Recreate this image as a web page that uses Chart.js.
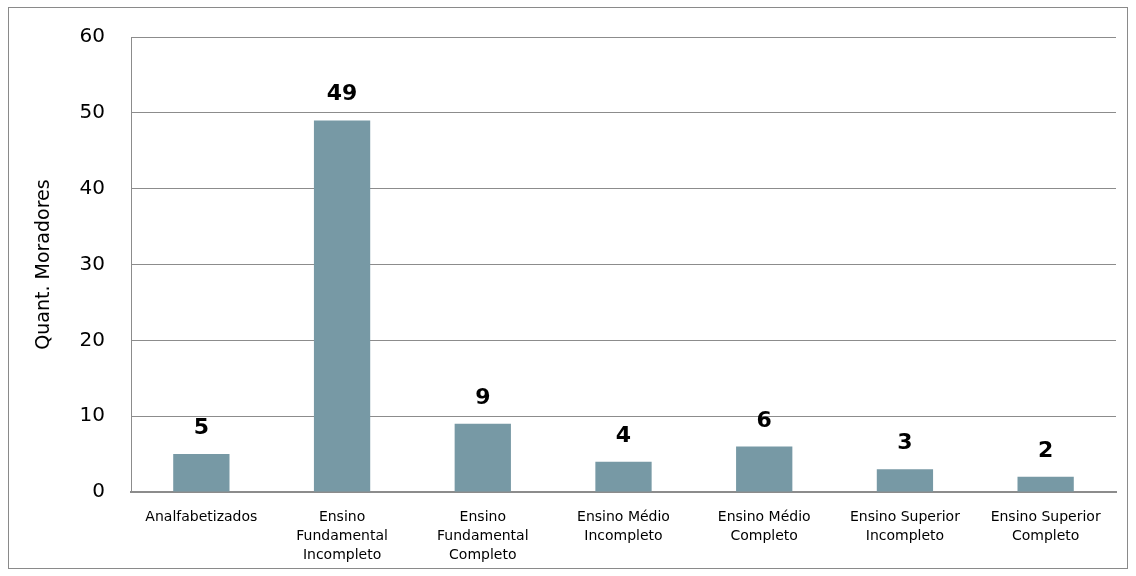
<!DOCTYPE html>
<html>
<head>
<meta charset="utf-8">
<script src="https://cdn.jsdelivr.net/npm/chart.js@4/dist/chart.umd.min.js"></script>
<style>
  html, body { margin: 0; padding: 0; background: #fff; }
  #caixa { position: absolute; left: 8px; top: 7px; width: 1120px; height: 562px;
           box-sizing: border-box; border: 1px solid #8a8a8a; }
</style>
</head>
<body>
<div id="caixa"><canvas id="grafico"></canvas></div>
<script>
var categorias = [
  "Analfabetizados",
  ["Ensino", "Fundamental", "Incompleto"],
  ["Ensino", "Fundamental", "Completo"],
  ["Ensino Médio", "Incompleto"],
  ["Ensino Médio", "Completo"],
  ["Ensino Superior", "Incompleto"],
  ["Ensino Superior", "Completo"]
];
var moradores = [5, 49, 9, 4, 6, 3, 2];
var ticksY = [0, 10, 20, 30, 40, 50, 60];

var fonte = "'DejaVu Sans', sans-serif";
var corBarra = "#7799a5";
var corGrade = "#8c8c8c";

// escreve o valor em cima de cada barra
var rotulosBarras = {
  id: "rotulosBarras",
  afterDatasetsDraw: function(chart) {
    var ctx = chart.ctx;
    var meta = chart.getDatasetMeta(0);
    ctx.save();
    ctx.font = "bold 22px " + fonte;
    ctx.fillStyle = "#000";
    ctx.textAlign = "center";
    ctx.textBaseline = "alphabetic";
    meta.data.forEach(function(bar, i) {
      ctx.fillText(String(moradores[i]), bar.x, bar.y - 20);
    });
    ctx.restore();
  }
};

var ctx = document.getElementById("grafico").getContext("2d");
var chart = new Chart(ctx, {
  type: "bar",
  data: {
    labels: categorias,
    datasets: [{
      data: moradores,
      backgroundColor: corBarra,
      barPercentage: 0.4,
      categoryPercentage: 1.0
    }]
  },
  options: {
    responsive: true,
    maintainAspectRatio: false,
    animation: false,
    layout: { padding: { top: 29, right: 11, left: 0, bottom: 0 } },
    plugins: {
      legend: { display: false },
      tooltip: { enabled: false }
    },
    scales: {
      x: {
        grid: { display: false, drawTicks: false },
        border: { color: corGrade, width: 2 },
        ticks: {
          color: "#000",
          font: { family: fonte, size: 14, lineHeight: 1.35 },
          padding: 16,
          maxRotation: 0,
          autoSkip: false
        },
        afterFit: function(s) { s.height = 76; }
      },
      y: {
        min: 0,
        max: 60,
        afterBuildTicks: function(s) { s.ticks = ticksY.map(function(v) { return { value: v }; }); },
        grid: { color: corGrade, lineWidth: 1, drawTicks: false },
        border: { color: corGrade, width: 1 },
        ticks: {
          color: "#000",
          font: { family: fonte, size: 20 },
          padding: 26
        },
        title: {
          display: true,
          text: "Quant. Moradores",
          color: "#000",
          font: { family: fonte, size: 19 },
          padding: { top: 24, bottom: 0 }
        },
        afterFit: function(s) {
          s.width = 122;
          // o padding dos ticks não deve empurrar a área do gráfico
          s.paddingTop = 0;
          s.paddingBottom = 0;
        }
      }
    }
  },
  plugins: [rotulosBarras]
});
</script>
</body>
</html>
